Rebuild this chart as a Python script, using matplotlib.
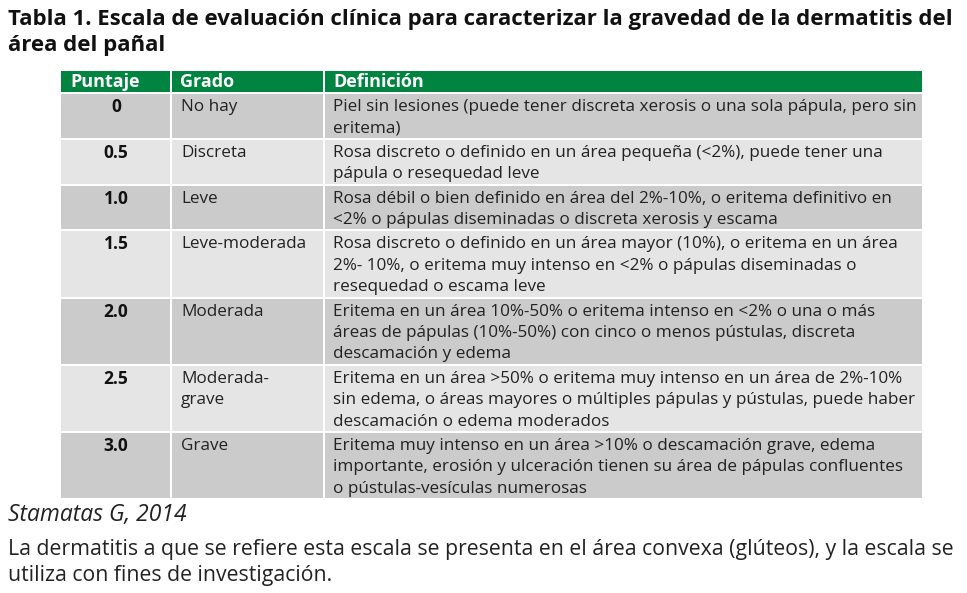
import matplotlib
matplotlib.use("Agg")
import matplotlib.pyplot as plt
from matplotlib.patches import Rectangle

# Table content
title_lines = [
    "Tabla 1. Escala de evaluación clínica para caracterizar la gravedad de la dermatitis del",
    "área del pañal",
]
headers = ["Puntaje", "Grado", "Definición"]
scores = ["0", "0.5", "1.0", "1.5", "2.0", "2.5", "3.0"]
grades = [
    ["No hay"],
    ["Discreta"],
    ["Leve"],
    ["Leve-moderada"],
    ["Moderada"],
    ["Moderada-", "grave"],
    ["Grave"],
]
definitions = [
    ["Piel sin lesiones (puede tener discreta xerosis o una sola pápula, pero sin",
     "eritema)"],
    ["Rosa discreto o definido en un área pequeña (<2%), puede tener una",
     "pápula o resequedad leve"],
    ["Rosa débil o bien definido en área del 2%-10%, o eritema definitivo en",
     "<2% o pápulas diseminadas o discreta xerosis y escama"],
    ["Rosa discreto o definido en un área mayor (10%), o eritema en un área",
     "2%- 10%, o eritema muy intenso en <2% o pápulas diseminadas o",
     "resequedad o escama leve"],
    ["Eritema en un área 10%-50% o eritema intenso en <2% o una o más",
     "áreas de pápulas (10%-50%) con cinco o menos pústulas, discreta",
     "descamación y edema"],
    ["Eritema en un área >50% o eritema muy intenso en un área de 2%-10%",
     "sin edema, o áreas mayores o múltiples pápulas y pústulas, puede haber",
     "descamación o edema moderados"],
    ["Eritema muy intenso en un área >10% o descamación grave, edema",
     "importante, erosión y ulceración tienen su área de pápulas confluentes",
     "o pústulas-vesículas numerosas"],
]
source = "Stamatas G, 2014"
note_lines = [
    "La dermatitis a que se refiere esta escala se presenta en el área convexa (glúteos), y la escala se",
    "utiliza con fines de investigación.",
]

plt.rcParams['font.family'] = ['Open Sans', 'DejaVu Sans']

W, H = 967, 593
fig = plt.figure(figsize=(W / 100, H / 100), dpi=100)
ax = fig.add_axes([0, 0, 1, 1])
ax.set_xlim(0, W)
ax.set_ylim(H, 0)
ax.axis('off')

green = '#00843f'
dark = '#cbcbcb'
light = '#e5e5e5'
col_x = [61, 171, 324, 923]
line_h = 21.4
gap = 2

# title
for i, t in enumerate(title_lines):
    ax.text(8, 20 + i * 26, t, fontsize=16, fontweight='bold', color='#111111',
            ha='left', va='center')

# header row
y = 71
hh = 21
for j, h in enumerate(headers):
    x0 = col_x[j] + (0 if j == 0 else 1)
    ax.add_patch(Rectangle((x0, y), col_x[j + 1] - x0 - 1, hh,
                           facecolor=green, edgecolor='none'))
    ax.text(col_x[j] + 9, y + hh / 2 + 0.5, h, fontsize=13, fontweight='bold', color='white',
            ha='left', va='center')
y += hh + gap

# body rows
for i in range(len(scores)):
    n = max(len(grades[i]), len(definitions[i]))
    rh = n * line_h + 1
    fc = dark if i % 2 == 0 else light
    for j in range(3):
        x0 = col_x[j] + (0 if j == 0 else 1)
        ax.add_patch(Rectangle((x0, y), col_x[j + 1] - x0 - 1, rh,
                               facecolor=fc, edgecolor='none'))
    ty = y + 13
    ax.text((col_x[0] + col_x[1]) / 2, ty, scores[i], fontsize=12.5, fontweight='bold',
            color='#111111', ha='center', va='center')
    for k, g in enumerate(grades[i]):
        ax.text(col_x[1] + 10, ty + k * line_h, g, fontsize=12.3, color='#222222',
                ha='left', va='center')
    for k, d in enumerate(definitions[i]):
        ax.text(col_x[2] + 9, ty + k * line_h, d, fontsize=12.3, color='#222222',
                ha='left', va='center')
    y += rh + gap

# footer
ax.text(8, 515, source, fontsize=16.5, fontstyle='italic', color='#222222', ha='left', va='center')
for i, t in enumerate(note_lines):
    ax.text(8, 549 + i * 27, t, fontsize=15.3, color='#222222', ha='left', va='center')

fig.savefig('out.png', dpi=100, facecolor='white')
